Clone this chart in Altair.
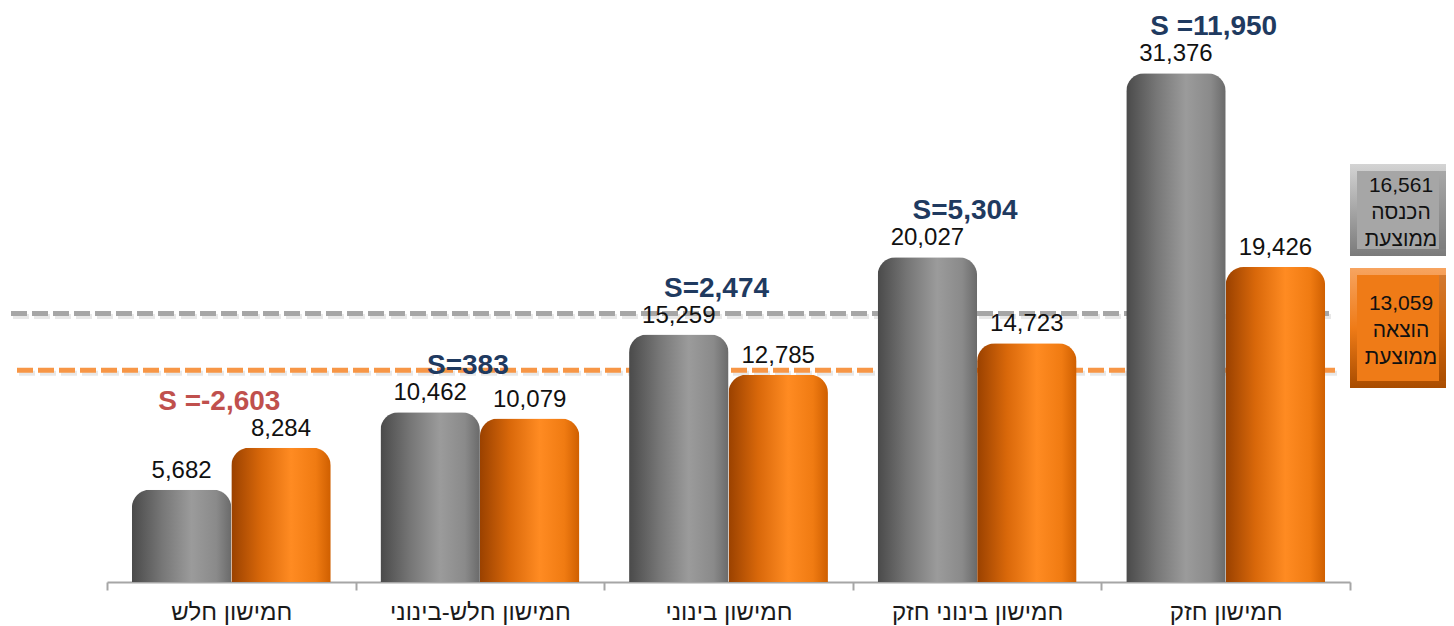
import altair as alt
import pandas as pd

# ---------------- data ----------------
categories = ["חמישון חלש", "חמישון חלש-בינוני", "חמישון בינוני", "חמישון בינוני חזק", "חמישון חזק"]
income = [5682, 10462, 15259, 20027, 31376]
expense = [8284, 10079, 12785, 14723, 19426]
s_values = [-2603, 383, 2474, 5304, 11950]
s_labels = ["S =-2,603", "S=383", "S=2,474", "S=5,304", "S =11,950"]
avg_income = 16561
avg_expense = 13059
income_box_words = ["הכנסה", "ממוצעת"]
expense_box_words = ["הוצאה", "ממוצעת"]
series = ["income", "expense"]

bars_df = pd.DataFrame({
    "category": categories * 2,
    "series": ["income"] * len(categories) + ["expense"] * len(categories),
    "value": income + expense,
})
bars_df["label"] = bars_df["value"].map(lambda v: f"{v:,}")

s_df = pd.DataFrame({
    "category": categories,
    "s": s_values,
    "label": s_labels,
    "top": [max(a, b) for a, b in zip(income, expense)],
})

avg_df = pd.DataFrame({"kind": ["income", "expense"], "avg": [avg_income, avg_expense]})

# ---------------- styling ----------------
FONT = "Liberation Sans"
YMAX = 35400

x_enc = alt.X(
    "category:N",
    sort=categories,
    scale=alt.Scale(domain=categories, paddingInner=0, paddingOuter=0),
    axis=alt.Axis(
        title=None, orient="bottom", labelAngle=0,
        domainColor="#a6a6a6", domainWidth=2,
        tickColor="#a6a6a6", tickWidth=2, tickSize=8, tickBand="extent",
        labelFont=FONT, labelFontSize=24, labelColor="#1a1a1a", labelPadding=10,
        labelLimit=400, grid=False,
    ),
)
xoff_enc = alt.XOffset(
    "series:N", sort=series,
    scale=alt.Scale(domain=series, paddingInner=0, paddingOuter=0.25),
)
y_scale = alt.Scale(domain=[0, YMAX], nice=False, zero=True)


def hgrad(stops):
    return alt.LinearGradient(
        gradient="linear", x1=0, y1=0, x2=1, y2=0,
        stops=[alt.GradientStop(color=c, offset=o) for o, c in stops],
    )


def vgrad(stops):
    return alt.LinearGradient(
        gradient="linear", x1=0, y1=0, x2=0, y2=1,
        stops=[alt.GradientStop(color=c, offset=o) for o, c in stops],
    )


gray_grad = hgrad([(0, "#4a4a4a"), (0.3, "#767676"), (0.6, "#9b9b9b"), (0.85, "#8a8a8a"), (1, "#6a6a6a")])
orange_grad = hgrad([(0, "#9a4100"), (0.3, "#d9680a"), (0.6, "#ff8b22"), (0.85, "#f07b12"), (1, "#cf5f00")])

base = alt.Chart(bars_df)

gray_bars = base.transform_filter(alt.datum.series == "income").mark_bar(
    fill=gray_grad, cornerRadiusTopLeft=18, cornerRadiusTopRight=18
).encode(x=x_enc, xOffset=xoff_enc, y=alt.Y("value:Q", scale=y_scale, axis=None))

orange_bars = base.transform_filter(alt.datum.series == "expense").mark_bar(
    fill=orange_grad, cornerRadiusTopLeft=18, cornerRadiusTopRight=18
).encode(x=x_enc, xOffset=xoff_enc, y=alt.Y("value:Q", scale=y_scale, axis=None))

value_labels = base.mark_text(
    font=FONT, fontSize=24, baseline="alphabetic", dy=-12, color="#111111"
).encode(x=x_enc, xOffset=xoff_enc, y=alt.Y("value:Q", scale=y_scale, axis=None), text="label:N")

s_text = alt.Chart(s_df).mark_text(
    font=FONT, fontSize=28, fontWeight="bold", baseline="alphabetic", dy=-38, dx=-12
).encode(
    x=x_enc,
    y=alt.Y("top:Q", scale=y_scale, axis=None),
    text="label:N",
    color=alt.condition("datum.s < 0", alt.value("#c0504d"), alt.value("#1f3a60")),
)

avg_base = alt.Chart(avg_df)


def avg_rule(kind, color, x_start, x_end):
    shadow = avg_base.transform_filter(alt.datum.kind == kind).mark_rule(
        strokeDash=[16, 5], strokeWidth=5, color="#7f7f7f", opacity=0.18, yOffset=3, clip=False
    ).encode(y=alt.Y("avg:Q", scale=y_scale, axis=None), x=alt.value(x_start + 2), x2=alt.value(x_end + 2))
    line = avg_base.transform_filter(alt.datum.kind == kind).mark_rule(
        strokeDash=[16, 5], strokeWidth=5, color=color, clip=False
    ).encode(y=alt.Y("avg:Q", scale=y_scale, axis=None), x=alt.value(x_start), x2=alt.value(x_end))
    return [shadow, line]


def bevel_box(kind, x0, x1, y0, y1, light, dark, face, lines):
    b = avg_base.transform_filter(alt.datum.kind == kind)
    outer = b.mark_rect(fill=vgrad([(0, light), (0.5, face), (1, dark)]), clip=False).encode(
        x=alt.value(x0), x2=alt.value(x1), y=alt.value(y0), y2=alt.value(y1)
    )
    right_edge = b.mark_rect(fill=dark, opacity=0.45, clip=False).encode(
        x=alt.value(x1 - 7), x2=alt.value(x1), y=alt.value(y0 + 7), y2=alt.value(y1 - 7)
    )
    inner = b.mark_rect(fill=face, clip=False).encode(
        x=alt.value(x0 + 7), x2=alt.value(x1 - 7), y=alt.value(y0 + 7), y2=alt.value(y1 - 7)
    )
    lh = 27
    first = (y0 + y1) / 2 - lh + 3
    txt = b.mark_text(
        font=FONT, fontSize=21, color="#111111", align="center", baseline="middle", lineHeight=lh, clip=False
    ).encode(x=alt.value((x0 + x1) / 2 + 3), y=alt.value(first), text=alt.value(lines))
    return [outer, right_edge, inner, txt]


layers = []
layers += avg_rule("income", "#a6a6a6", -96, 1223)
layers += avg_rule("expense", "#f79646", -90, 1228)
layers += [gray_bars, orange_bars, value_labels, s_text]
layers += bevel_box("income", 1243, 1339, 156, 248, "#d4d4d4", "#7a7a7a", "#a6a6a6",
                    [f"{avg_income:,}"] + income_box_words)
layers += bevel_box("expense", 1243, 1339, 260, 380, "#f7a460", "#a84c00", "#ef7b17",
                    [f"{avg_expense:,}"] + expense_box_words)

chart = alt.layer(*layers).properties(
    width=1243,
    height=574,
    padding={"left": 99, "top": 0, "right": 96, "bottom": 44},
    autosize=alt.AutoSizeParams(type="none"),
    background="white",
).configure_view(stroke=None)

chart.save("out.html", embed_options={"renderer": "svg", "actions": False})
